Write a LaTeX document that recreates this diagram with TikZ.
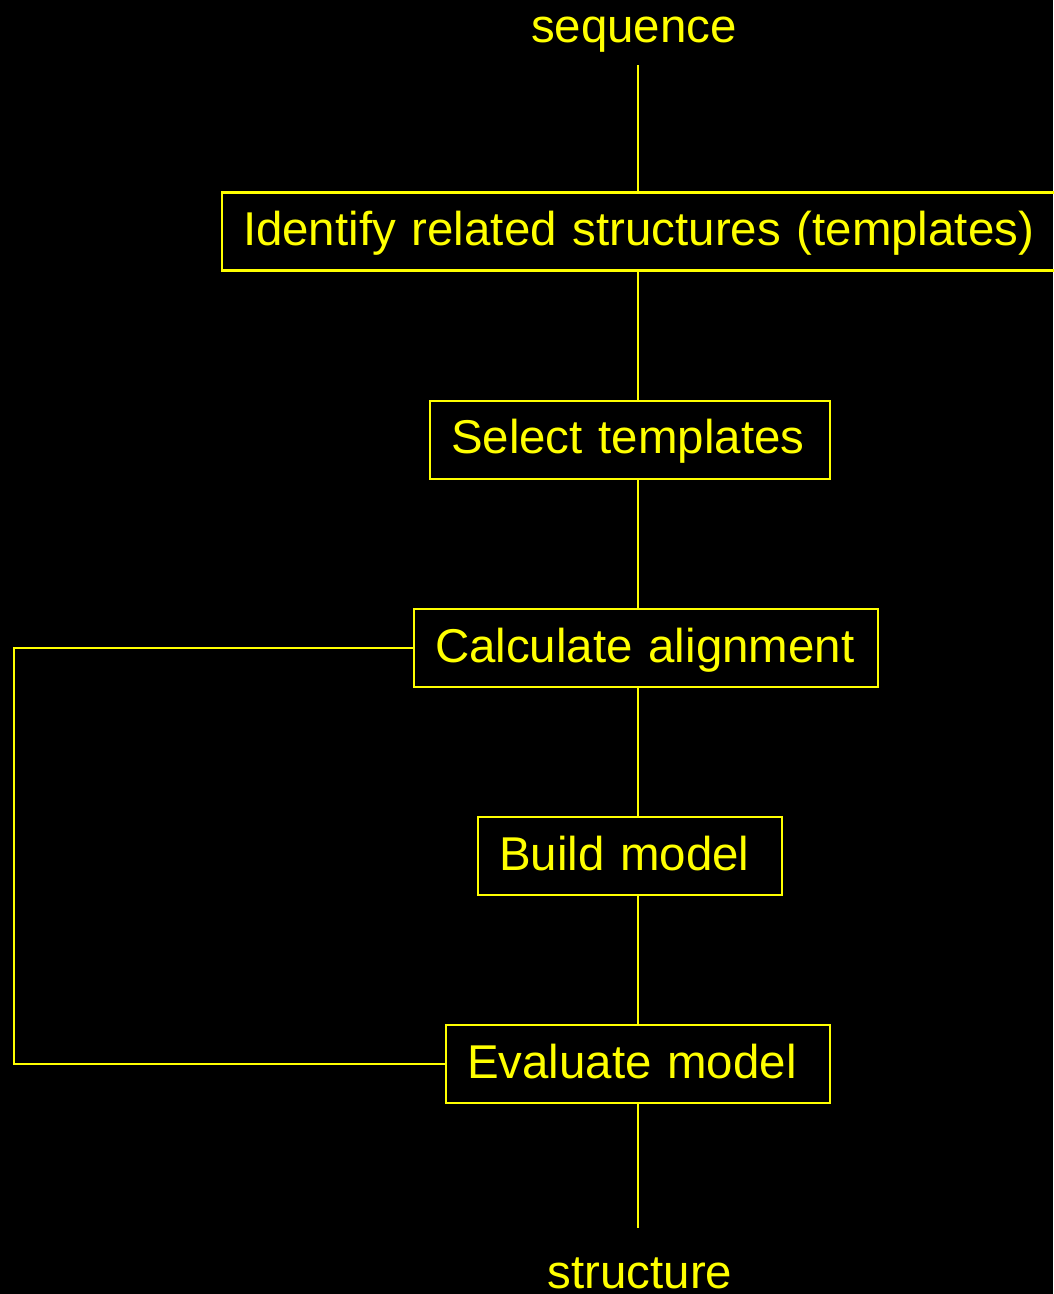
\documentclass[tikz,border=0pt]{standalone}
\usepackage{fontspec}
\setmainfont{Liberation Sans}
\definecolor{mlyellow}{RGB}{255,255,0}
\usetikzlibrary{arrows.meta}
\tikzset{
  stepbox/.style={draw=mlyellow, line width=0.6pt, text=mlyellow, font=\fontsize{13.5}{16}\selectfont,
                  text width=#1, align=left, inner xsep=0.21cm, minimum height=0.78cm,
                  text height=0.40cm, text depth=0.12cm},
  endlabel/.style={text=mlyellow, font=\fontsize{13.5}{16}\selectfont},
  link/.style={draw=mlyellow, line width=0.6pt},
}
\begin{document}
\begin{tikzpicture}

% Background and page size
\fill[black] (0,0) rectangle (10.53,-12.94);
\useasboundingbox (0,0) rectangle (10.53,-12.94);

% Main axis of the flow
\coordinate (axis) at (6.38,0);
\coordinate (loop) at (0.14,0);

% Input and output
\node[endlabel, anchor=base] (seq) at (6.34,-0.43) {sequence};
\node[endlabel, anchor=base, inner ysep=0.29cm] (struct) at (6.40,-12.88) {structure};

% Steps
\node[stepbox=8.1cm] (ident) at (6.48,-2.315) {Identify related structures (templates)};
\node[stepbox=3.58cm] (select) at (6.30,-4.40) {Select templates};
\node[stepbox=4.22cm] (align) at (6.46,-6.48) {Calculate alignment};
\node[stepbox=2.62cm] (build) at (6.30,-8.56) {Build model};
\node[stepbox=3.42cm] (eval) at (6.38,-10.64) {Evaluate model};

% Connectors
\draw[link] (seq.south -| axis) -- (ident.north -| axis);
\draw[link] (ident.south -| axis) -- (select.north -| axis);
\draw[link] (select.south -| axis) -- (align.north -| axis);
\draw[link] (align.south -| axis) -- (build.north -| axis);
\draw[link] (build.south -| axis) -- (eval.north -| axis);
\draw[link] (eval.south -| axis) -- (struct.north -| axis);

% Feedback loop
\draw[link] (align.west) -- (align.west -| loop) |- (eval.west);

\end{tikzpicture}
\end{document}
